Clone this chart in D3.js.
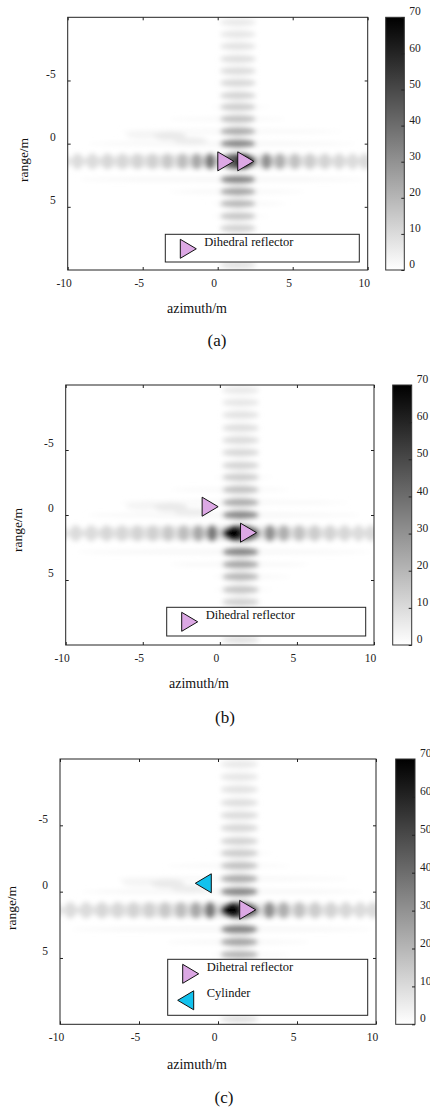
<!DOCTYPE html>
<html>
<head>
<meta charset="utf-8">
<script src="https://cdn.jsdelivr.net/npm/d3@7"></script>
<style>
  body { margin: 0; background: #fff; }
  svg { display: block; font-family: "Liberation Serif", "Times New Roman", serif; }
</style>
</head>
<body>
<div id="chart"></div>
<script>
// tick labels
var azTicks = [-10, -5, 0, 5, 10],
    rgTicks = [-5, 0, 5],
    cbTicks = [0, 10, 20, 30, 40, 50, 60, 70];

// azimuth sidelobes along the target's range row (azimuth in m, level)
var rowRange = 1.4;
var azLobeAz  = [-10.3, -9.35, -8.35, -7.35, -6.35, -5.35, -4.35, -3.35, -2.35, -1.4, -0.5, 3.25, 4.15, 5.15, 6.15, 7.15, 8.1, 9.0, 9.8];
var azLobeVal = [9, 10, 10, 11, 11, 12, 13, 15, 18, 24, 36, 30, 22, 17, 14, 12, 11, 10, 10];

// range sidelobes along the target's azimuth column (range in m, level)
var colAz = 1.35;
var rgLobeRg  = [-9.6, -8.65, -7.7, -6.7, -5.75, -4.8, -3.8, -2.9, -1.95, -0.97, 0.0, 2.84, 3.8, 4.75, 5.75, 6.7, 7.65, 8.6, 9.6];
var rgLobeVal = [6, 7, 8, 9, 10, 11, 12, 14, 17, 23, 33, 34, 25, 20, 16, 13, 11, 10, 8];

// faint cross sidelobes: azimuth from, azimuth to, range, level
var streakFrom = [-10.5, -8.7, -9.3, -6.5, -3.3, -3.3, -0.5, -0.5, -0.5];
var streakTo   = [10.5, 9.2, 9.8, 8.3, 5.8, 4.6, 4.6, 3.5, 3.5];
var streakRg   = [1.4, 0.0, 2.84, -0.97, 3.8, -1.95, 4.75, 5.75, -2.9];
var streakVal  = [7, 3, 3, 2.5, 2.5, 2, 2, 1.5, 1.5];

// smear left of the column (azimuth, range, level)
var smearAz  = [-5.0, -3.2, -1.8];
var smearRg  = [-0.7, -0.6, -0.2];
var smearVal = [3, 6, 5];

// main lobe, same in all panels, and the peak of each panel
var mainLobe = [1.35, 1.4, 44];
var coreA = [1.8, 1.4, 78],
    coreB = [0.85, 1.4, 80],
    coreC = [0.85, 1.4, 80];

// marker positions (azimuth, range)
var dihedralA = [[0.54, 1.4], [1.87, 1.4]],
    dihedralB = [[-0.63, -0.64], [1.86, 1.36]],
    dihedralC = [[1.88, 1.37]],
    cylinderC = [[-0.93, -0.63]];

var legendA = ["Dihedral reflector"],
    legendB = ["Dihedral reflector"],
    legendC = ["Dihetral reflector", "Cylinder"];

var captions = ["(a)", "(b)", "(c)"];

var panels = [
  { x0: 67.7, x1: 367.7, y0: 17.3, y1: 270, cbx: 385.7, cbw: 18.6, xlab: [197, 313], ylab: [27.5, 160],
    cap: [217, 346], box: [165.3, 234.3, 194, 27.7], core: coreA, dihedral: dihedralA, cylinder: [], legend: legendA },
  { x0: 65.7, x1: 374, y0: 385, y1: 645, cbx: 392.7, cbw: 19, xlab: [199, 688], ylab: [22.4, 530],
    cap: [225, 723], box: [166.7, 607.3, 199, 28.7], core: coreB, dihedral: dihedralB, cylinder: [], legend: legendB },
  { x0: 60, x1: 376, y0: 759, y1: 1024.3, cbx: 395.7, cbw: 19.3, xlab: [197, 1069], ylab: [15.8, 908],
    cap: [224, 1103], box: [167.7, 959.3, 200, 56], core: coreC, dihedral: dihedralC, cylinder: cylinderC, legend: legendC }
];

var serif = "Liberation Serif, Times New Roman, serif";

var svg = d3.select("#chart").append("svg").attr("width", 430).attr("height", 1115);
var defs = svg.append("defs");

var gray = d3.scaleLinear().domain([0, 70]).range(["#ffffff", "#000000"]).clamp(true);

defs.append("filter").attr("id", "soft")
    .attr("x", "-10%").attr("y", "-10%").attr("width", "120%").attr("height", "120%")
    .append("feGaussianBlur").attr("stdDeviation", 2.5);

var grad = defs.append("linearGradient").attr("id", "cbgrad")
    .attr("x1", 0).attr("y1", 1).attr("x2", 0).attr("y2", 0);
grad.selectAll("stop").data(cbTicks).join("stop")
    .attr("offset", d => d / 70)
    .attr("stop-color", d => gray(d));

// lobe shapes, half extents in metres
function heatItems(core) {
  var items = [];
  streakFrom.forEach((f, i) => items.push({ az: (f + streakTo[i]) / 2, rg: streakRg[i], v: streakVal[i],
    hw: (streakTo[i] - f) / 2, hh: i == 0 ? 0.55 : 0.14 }));
  smearAz.forEach((a, i) => items.push({ az: a, rg: smearRg[i], v: smearVal[i], hw: 1.1, hh: 0.32 }));
  azLobeAz.forEach((a, i) => items.push({ az: a, rg: rowRange, v: azLobeVal[i], hw: 0.38, hh: 0.62 }));
  rgLobeRg.forEach((r, i) => items.push({ az: colAz, rg: r, v: rgLobeVal[i], hw: 1.2, hh: 0.3 }));
  items.push({ az: mainLobe[0], rg: mainLobe[1], v: mainLobe[2], hw: 1.25, hh: 0.62 });
  items.push({ az: core[0], rg: core[1], v: core[2], hw: 0.62, hh: 0.52 });
  return items.sort((a, b) => a.v - b.v);
}

function triangle(cx, cy, dir) {
  var w = 16, h = 19;
  return "M" + (cx - dir * w / 2) + "," + (cy - h / 2) +
         "L" + (cx + dir * w / 2) + "," + cy +
         "L" + (cx - dir * w / 2) + "," + (cy + h / 2) + "Z";
}

function styleAxis(g) {
  g.attr("font-family", serif).attr("font-size", 11.5).attr("color", "#222");
  g.select(".domain").remove();
}

var plain = d => String(d);

panels.forEach(function (p, k) {
  var x = d3.scaleLinear().domain([-10, 10]).range([p.x0, p.x1]);
  var y = d3.scaleLinear().domain([-10, 10]).range([p.y0, p.y1]);
  var cb = d3.scaleLinear().domain([0, 70]).range([p.y1, p.y0]);

  defs.append("clipPath").attr("id", "clip" + k)
    .append("rect")
    .attr("x", p.x0).attr("y", p.y0)
    .attr("width", p.x1 - p.x0).attr("height", p.y1 - p.y0);

  var g = svg.append("g");

  // image
  g.append("g").attr("clip-path", "url(#clip" + k + ")")
    .append("g").attr("filter", "url(#soft)")
    .selectAll("ellipse")
    .data(heatItems(p.core))
    .join("ellipse")
    .attr("cx", d => x(d.az))
    .attr("cy", d => y(d.rg))
    .attr("rx", d => x(d.az + d.hw) - x(d.az))
    .attr("ry", d => y(d.rg + d.hh) - y(d.rg))
    .attr("fill", d => gray(d.v));

  // axes, ticks inside on all sides
  g.append("g").attr("transform", "translate(0," + p.y1 + ")")
    .call(d3.axisBottom(x).tickValues(azTicks).tickFormat(plain).tickSizeInner(-3).tickSizeOuter(0).tickPadding(9))
    .call(styleAxis)
    .selectAll("text").attr("x", -4);
  g.append("g").attr("transform", "translate(0," + p.y0 + ")")
    .call(d3.axisTop(x).tickValues(azTicks).tickSizeInner(-3).tickSizeOuter(0).tickFormat(""))
    .call(styleAxis);
  g.append("g").attr("transform", "translate(" + p.x0 + ",0)")
    .call(d3.axisLeft(y).tickValues(rgTicks).tickFormat(plain).tickSizeInner(-3).tickSizeOuter(0).tickPadding(12))
    .call(styleAxis)
    .selectAll("text").attr("y", -7);
  g.append("g").attr("transform", "translate(" + p.x1 + ",0)")
    .call(d3.axisRight(y).tickValues(rgTicks).tickSizeInner(-3).tickSizeOuter(0).tickFormat(""))
    .call(styleAxis);

  g.append("rect")
    .attr("x", p.x0).attr("y", p.y0)
    .attr("width", p.x1 - p.x0).attr("height", p.y1 - p.y0)
    .attr("fill", "none").attr("stroke", "#222").attr("stroke-width", 1);

  // legend
  var box = g.append("g").attr("transform", "translate(" + p.box[0] + "," + p.box[1] + ")");
  box.append("rect")
    .attr("width", p.box[2]).attr("height", p.box[3])
    .attr("fill", "#fff").attr("stroke", "#222").attr("stroke-width", 1);
  p.legend.forEach(function (t, i) {
    var dir = i == 0 ? 1 : -1;
    box.append("path")
      .attr("d", triangle(dir == 1 ? 23 : 18, 14.5 + i * 26.5, dir))
      .attr("fill", dir == 1 ? "#dca8e4" : "#12c2ee")
      .attr("stroke", "#111").attr("stroke-width", 1);
    box.append("text")
      .attr("x", 39).attr("y", 12 + i * 26)
      .attr("font-family", serif).attr("font-size", 12.5).attr("fill", "#111")
      .text(t);
  });

  // markers
  g.selectAll(".dih")
    .data(p.dihedral)
    .join("path")
    .attr("d", d => triangle(x(d[0]), y(d[1]), 1))
    .attr("fill", "#dca8e4").attr("stroke", "#111").attr("stroke-width", 1);
  g.selectAll(".cyl")
    .data(p.cylinder)
    .join("path")
    .attr("d", d => triangle(x(d[0]), y(d[1]), -1))
    .attr("fill", "#12c2ee").attr("stroke", "#111").attr("stroke-width", 1);

  // axis titles
  g.append("text")
    .attr("x", p.xlab[0]).attr("y", p.xlab[1])
    .attr("text-anchor", "middle").attr("font-family", serif).attr("font-size", 14).attr("fill", "#111")
    .text("azimuth/m");
  g.append("text")
    .attr("transform", "translate(" + p.ylab[0] + "," + p.ylab[1] + ") rotate(-90)")
    .attr("text-anchor", "middle").attr("font-family", serif).attr("font-size", 13.5).attr("fill", "#111")
    .text("range/m");

  // colour bar
  g.append("rect")
    .attr("x", p.cbx).attr("y", p.y0)
    .attr("width", p.cbw).attr("height", p.y1 - p.y0)
    .attr("fill", "url(#cbgrad)").attr("stroke", "#333").attr("stroke-width", 1);
  g.append("g").attr("transform", "translate(" + (p.cbx + p.cbw) + ",0)")
    .call(d3.axisRight(cb).tickValues(cbTicks).tickFormat(plain).tickSizeInner(-3).tickSizeOuter(0).tickPadding(5))
    .call(styleAxis)
    .selectAll("text").attr("y", -6);

  svg.append("text")
    .attr("x", p.cap[0]).attr("y", p.cap[1])
    .attr("text-anchor", "middle").attr("font-family", serif).attr("font-size", 17).attr("fill", "#111")
    .text(captions[k]);
});
</script>
</body>
</html>
